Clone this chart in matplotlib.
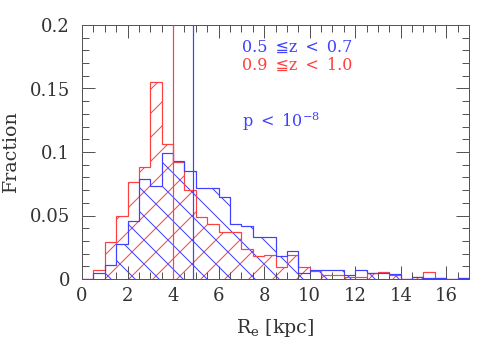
import numpy as np
import matplotlib
matplotlib.use("Agg")
import matplotlib.pyplot as plt
from matplotlib.ticker import MultipleLocator, FuncFormatter

# bordes de los bins (ancho 0.5 kpc)
bordes = np.arange(0, 17.01, 0.5)

# fracción por bin, 0.5 <= z < 0.7 (azul)
frac_azul = [0.0, 0.0045, 0.011, 0.0275, 0.046, 0.0786, 0.073, 0.099,
             0.0926, 0.0847, 0.0714, 0.0714, 0.0646, 0.0435, 0.0415, 0.0332,
             0.0332, 0.0178, 0.0217, 0.0047, 0.0068, 0.0068, 0.0068, 0.0035,
             0.0068, 0.0045, 0.005, 0.0037, 0.0, 0.0012, 0.001, 0.0007,
             0.0, 0.0007]

# fracción por bin, 0.9 <= z < 1.0 (rojo)
frac_rojo = [0.0, 0.0071, 0.029, 0.050, 0.0765, 0.088, 0.155, 0.106,
             0.092, 0.070, 0.0487, 0.043, 0.037, 0.037, 0.0235, 0.018,
             0.019, 0.0098, 0.019, 0.0095, 0.0066, 0.0032, 0.0035, 0.0016,
             0.0016, 0.0045, 0.0055, 0.0032, 0.0, 0.0015, 0.0056, 0.0007,
             0.0, 0.0005]

# medianas
mediana_azul = 4.87
mediana_rojo = 4.0

azul = (0.25, 0.25, 1.0)
rojo = (1.0, 0.25, 0.25)
gris = '#555555'
texto = '#333333'

plt.rcParams['font.family'] = ['DejaVu Serif', 'DejaVu Sans']
plt.rcParams['mathtext.fontset'] = 'dejavuserif'
plt.rcParams['hatch.linewidth'] = 1.0

fig = plt.figure(figsize=(491 / 72, 360 / 72), dpi=72, facecolor='white')
ax = fig.add_axes([82 / 491, 1 - 279 / 360, (469 - 82) / 491, (279 - 25) / 360])

# rayado + contorno escalonado
for frac, col, patron in [(frac_rojo, rojo, '/'), (frac_azul, azul, '\\')]:
    ax.stairs(frac, bordes, fill=True, facecolor='none', edgecolor=col,
              hatch=patron, linewidth=0)
    ax.stairs(frac, bordes, color=col, linewidth=1.2, zorder=3)

ax.axvline(mediana_rojo, color=rojo, linewidth=1.2, zorder=4)
ax.axvline(mediana_azul, color=azul, linewidth=1.2, zorder=4)

ax.set_xlim(0, 17)
ax.set_ylim(0, 0.2)

ax.xaxis.set_major_locator(MultipleLocator(2))
ax.xaxis.set_minor_locator(MultipleLocator(0.5))
ax.yaxis.set_major_locator(MultipleLocator(0.05))
ax.yaxis.set_minor_locator(MultipleLocator(0.01))
ax.yaxis.set_major_formatter(FuncFormatter(lambda v, p: f"{v:g}"))

ax.tick_params(which='both', direction='in', top=True, right=True,
               color=gris, labelcolor=texto, labelsize=18)
ax.tick_params(which='major', length=13, width=1)
ax.tick_params(which='minor', length=7, width=1)
ax.tick_params(axis='y', pad=12)
ax.tick_params(axis='x', pad=8)
for s in ax.spines.values():
    s.set_color(gris)
    s.set_linewidth(1.0)

ax.set_xlabel(r"R$_{\rm e}$ [kpc]", fontsize=19, color=texto, labelpad=12)
ax.set_ylabel("Fraction", fontsize=19, color=texto, labelpad=10)

esp = '\u2002'
ax.text(0.413, 0.913, f"0.5{esp}≦z{esp}<{esp}0.7", transform=ax.transAxes,
        color=azul, fontsize=16, va='center', ha='left')
ax.text(0.413, 0.841, f"0.9{esp}≦z{esp}<{esp}1.0", transform=ax.transAxes,
        color=rojo, fontsize=16, va='center', ha='left')
ax.text(0.413, 0.618, f"p{esp}<{esp}" + r"10$^{-8}$", transform=ax.transAxes,
        color=azul, fontsize=16, va='center', ha='left')

plt.savefig("out.png", dpi=72)
